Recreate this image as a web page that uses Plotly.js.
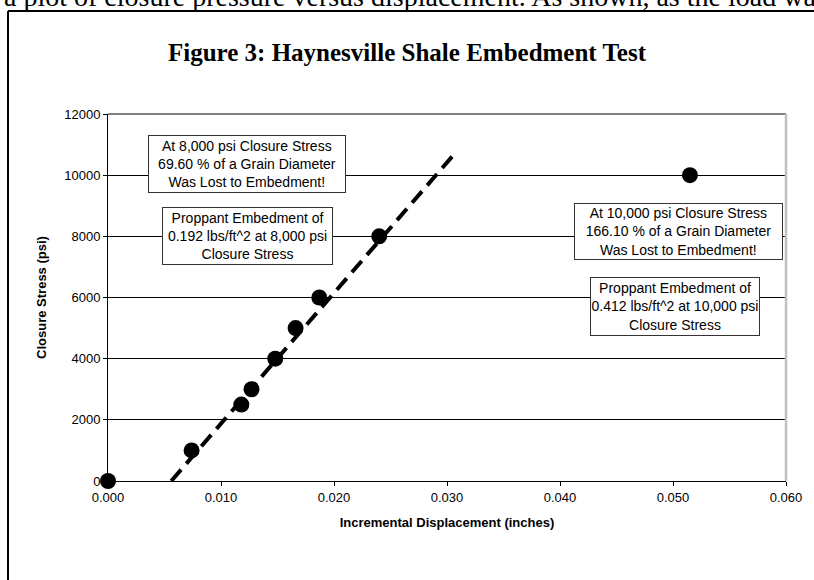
<!DOCTYPE html>
<html>
<head>
<meta charset="utf-8">
<script src="https://cdn.plot.ly/plotly-3.0.1.min.js"></script>
<style>
  html, body { margin: 0; padding: 0; background: #fff; overflow: hidden; }
  #chart { width: 814px; height: 580px; }
</style>
</head>
<body>
<div id="chart"></div>
<script>
// Measured data: incremental displacement (inches) vs closure stress (psi)
const displacement = [0.0000, 0.0074, 0.0118, 0.0127, 0.0148, 0.0166, 0.0187, 0.0240, 0.0515];
const closureStress = [0, 1000, 2500, 3000, 4000, 5000, 6000, 8000, 10000];

// Linear trendline end points
const trendX = [0.0056, 0.0309];
const trendY = [0, 10800];

// Axis ticks
const xTicks = [0.00, 0.01, 0.02, 0.03, 0.04, 0.05, 0.06];
const xTickLabels = ['0.000', '0.010', '0.020', '0.030', '0.040', '0.050', '0.060'];
const yTicks = [0, 2000, 4000, 6000, 8000, 10000, 12000];
const yTickLabels = ['0', '2000', '4000', '6000', '8000', '10000', '12000'];

// Texts
const chartTitle = 'Figure 3: Haynesville Shale Embedment Test';
const xTitle = 'Incremental Displacement (inches)';
const yTitle = 'Closure Stress (psi)';
const note8kLoss = 'At 8,000 psi Closure Stress<br>69.60 % of a Grain Diameter<br>Was Lost to Embedment!';
const note8kEmb = 'Proppant Embedment of<br>0.192 lbs/ft^2 at 8,000 psi<br>Closure Stress';
const note10kLoss = 'At 10,000 psi Closure Stress<br>166.10 % of a Grain Diameter<br>Was Lost to Embedment!';
const note10kEmb = 'Proppant Embedment of<br>0.412 lbs/ft^2 at 10,000 psi<br>Closure Stress';
const pageText = 'a plot of closure pressure versus displacement. As shown, as the load wa';

const sans = 'Arial, "Liberation Sans", sans-serif';
const serif = '"Times New Roman", "Liberation Serif", serif';

const traces = [
  {
    x: trendX, y: trendY, type: 'scatter', mode: 'lines',
    line: { color: '#000', width: 4, dash: '15px,8px' },
    hoverinfo: 'skip', showlegend: false, cliponaxis: false
  },
  {
    x: displacement, y: closureStress, type: 'scatter', mode: 'markers',
    marker: { color: '#000', size: 16, line: { width: 0 } },
    showlegend: false, cliponaxis: false
  }
];

function note(text, x, y, w, h) {
  return {
    text: text, x: x, y: y, xref: 'x', yref: 'y', showarrow: false,
    xanchor: 'center', yanchor: 'middle', align: 'center',
    width: w, height: h, bgcolor: '#fff', bordercolor: '#333', borderwidth: 1, borderpad: 0,
    font: { family: sans, size: 14, color: '#000' }
  };
}

const layout = {
  width: 814, height: 580,
  margin: { l: 108, r: 28, t: 114, b: 99 },
  paper_bgcolor: '#fff', plot_bgcolor: '#fff',
  showlegend: false,
  title: {
    text: '<b>' + chartTitle + '</b>',
    xref: 'container', yref: 'container', x: 0.5, y: 1 - 52 / 580,
    xanchor: 'center', yanchor: 'middle',
    font: { family: serif, size: 25, color: '#000' }
  },
  xaxis: {
    range: [0, 0.06], tickvals: xTicks, ticktext: xTickLabels,
    showgrid: false, zeroline: false,
    showline: true, linecolor: '#000', linewidth: 1,
    ticks: 'outside', ticklen: 4, tickcolor: '#000', tickwidth: 1,
    tickfont: { family: sans, size: 13, color: '#000' },
    title: { text: '<b>' + xTitle + '</b>', font: { family: sans, size: 13, color: '#000' }, standoff: 14 },
    fixedrange: true
  },
  yaxis: {
    range: [0, 12000], tickvals: yTicks, ticktext: yTickLabels,
    showgrid: true, gridcolor: '#000', gridwidth: 1, zeroline: false,
    showline: true, linecolor: '#000', linewidth: 1,
    ticks: 'outside', ticklen: 4, tickcolor: '#000', tickwidth: 1,
    tickfont: { family: sans, size: 13, color: '#000' },
    title: { text: '<b>' + yTitle + '</b>', font: { family: sans, size: 13, color: '#000' }, standoff: 14 },
    fixedrange: true
  },
  shapes: [
    // plot-area border: top (grey) and right (light grey)
    { type: 'line', xref: 'paper', yref: 'paper', x0: 0, x1: 1, y0: 1, y1: 1, line: { color: '#808080', width: 2 } },
    { type: 'line', xref: 'paper', yref: 'paper', x0: 1, x1: 1, y0: 0, y1: 1, line: { color: '#c0c0c0', width: 2.5 } },
    // outer document frame (left + top)
    { type: 'line', xref: 'paper', yref: 'paper', x0: -100 / 678, x1: -100 / 678, y0: -120 / 367, y1: 470 / 367, line: { color: '#000', width: 2 } },
    { type: 'line', xref: 'paper', yref: 'paper', x0: -100 / 678, x1: 720 / 678, y0: 470 / 367, y1: 470 / 367, line: { color: '#000', width: 2 } }
  ],
  annotations: [
    note(note8kLoss, 0.01229, 10350, 196, 56),
    note(note8kEmb, 0.01233, 8020, 169, 56),
    note(note10kLoss, 0.05045, 8170, 207, 55),
    note(note10kEmb, 0.05019, 5720, 168, 57),
    {
      text: pageText, xref: 'paper', yref: 'paper',
      x: -106 / 678, y: 467 / 367, xanchor: 'left', yanchor: 'bottom',
      showarrow: false, align: 'left',
      font: { family: serif, size: 28, color: '#000' }
    }
  ]
};

Plotly.newPlot('chart', traces, layout, { displayModeBar: false, staticPlot: true });
</script>
</body>
</html>
